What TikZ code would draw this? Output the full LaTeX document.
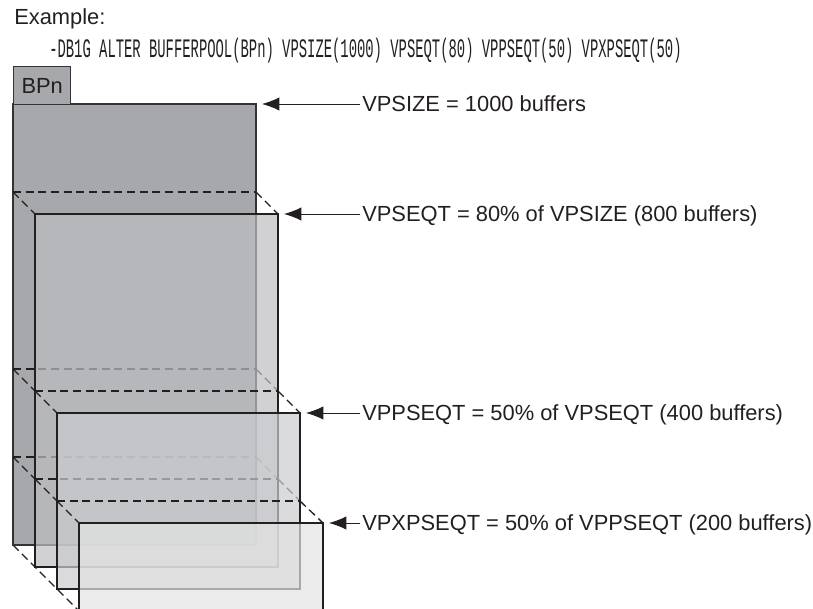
\documentclass[tikz,border=0pt]{standalone}
\usepackage{fontspec}
\setmainfont{Liberation Sans}
\newfontfamily\cmdfont{Liberation Mono}
\usepackage{graphicx}
\usetikzlibrary{arrows.meta}
\definecolor{PoolInk}{HTML}{231F20}
\definecolor{PoolEdge}{HTML}{333335}
\definecolor{PoolDark}{HTML}{A7A8AB}
\definecolor{PoolMid}{HTML}{BDBEC1}
\definecolor{PoolLight}{HTML}{CBCCCE}
\definecolor{PoolPale}{HTML}{E3E3E3}

\begin{document}
\begin{tikzpicture}[x=0.75pt,y=-0.75pt,
  plane/.style={draw=PoolInk,line width=1.3pt,fill opacity=0.7},
  proj/.style={PoolInk,line width=1pt,dash pattern=on 6pt off 3.5pt},
  pointer/.style={PoolInk,line width=0.7pt,-{Latex[length=13pt,width=10pt]}},
  level/.style={anchor=west,inner sep=1.5pt,text height=11.7pt,text depth=0pt,text=PoolInk,font=\fontsize{16.4}{19}\selectfont}]
\path[use as bounding box] (0,0) rectangle (813,609);
\node[anchor=base west,inner sep=0pt,text=PoolInk,font=\fontsize{16.4}{19}\selectfont] (example) at (14,25) {Example:};
\node[anchor=base west,inner sep=0pt,text=PoolInk] (command) at (49,58) {\scalebox{0.52}[1]{\cmdfont\fontsize{20}{24}\selectfont -DB1G ALTER BUFFERPOOL(BPn) VPSIZE(1000) VPSEQT(80) VPPSEQT(50) VPXPSEQT(50)}};
\draw[proj] (13,545) -- (81,613);
\draw[PoolEdge,fill=PoolDark,line width=1.1pt] (13,104) rectangle (256,545);
\node[draw=PoolEdge,fill=PoolDark,line width=1.1pt,anchor=north west,minimum width=42.75pt,minimum height=28.5pt,inner sep=0pt,text=PoolInk,font=\fontsize{16.4}{19}\selectfont] (tab) at (13,66) {BPn};
\draw[proj] (13,192) -- (256,192);
\draw[proj] (13,369) -- (256,369);
\draw[proj] (13,457) -- (256,457);
\draw[proj] (13,192) -- (35,214);
\draw[proj] (256,192) -- (278,214);
\draw[proj] (13,369) -- (35,391);
\draw[proj] (256,369) -- (278,391);
\draw[proj] (13,457) -- (35,479);
\draw[proj] (256,457) -- (278,479);
\draw[plane,fill=PoolMid] (35,214) rectangle (278,567);
\draw[proj] (35,391) -- (278,391);
\draw[proj] (35,479) -- (278,479);
\draw[proj] (35,391) -- (57,413);
\draw[proj] (278,391) -- (300,413);
\draw[proj] (35,479) -- (57,501);
\draw[proj] (278,479) -- (300,501);
\draw[plane,fill=PoolLight] (57,413) rectangle (300,589);
\draw[proj] (57,501) -- (300,501);
\draw[proj] (57,501) -- (79,523);
\draw[proj] (300,501) -- (323,523);
\draw[plane,fill=PoolPale,line width=1.9pt] (79,523) rectangle (323,611);
\coordinate (tipsize) at (262,104);
\coordinate (tipseqt) at (284,214);
\coordinate (tipppseqt) at (306,413);
\coordinate (tipxpseqt) at (329,523);
\node[level] (lsize) at (360,104) {VPSIZE = 1000 buffers};
\node[level] (lseqt) at (360,214) {VPSEQT = 80\% of VPSIZE (800 buffers)};
\node[level] (lppseqt) at (360,413) {VPPSEQT = 50\% of VPSEQT (400 buffers)};
\node[level] (lxpseqt) at (360,523) {VPXPSEQT = 50\% of VPPSEQT (200 buffers)};
\draw[pointer] (lsize.west) -- (tipsize);
\draw[pointer] (lseqt.west) -- (tipseqt);
\draw[pointer] (lppseqt.west) -- (tipppseqt);
\draw[pointer] (lxpseqt.west) -- (tipxpseqt);
\end{tikzpicture}
\end{document}
